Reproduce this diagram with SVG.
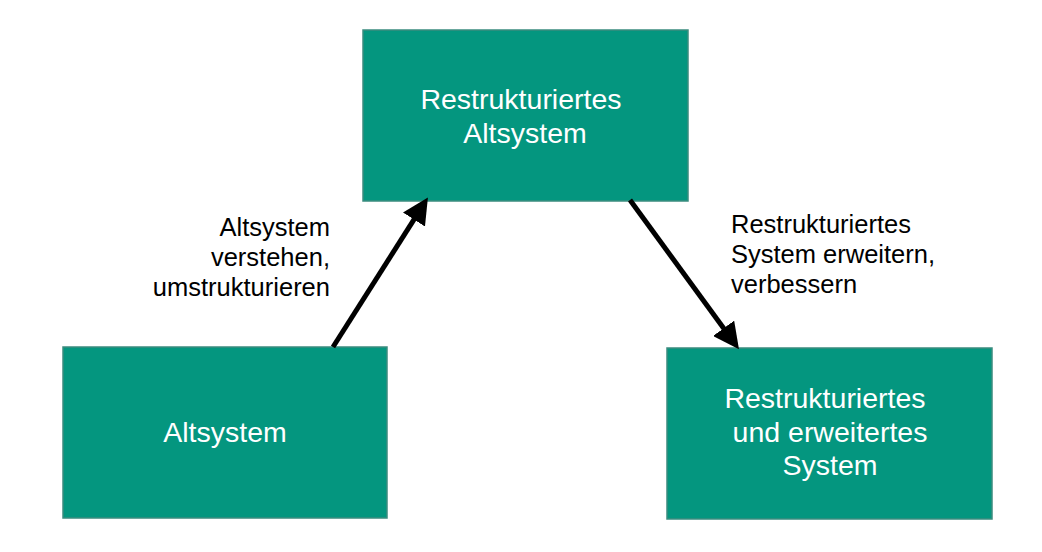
<svg xmlns="http://www.w3.org/2000/svg" width="1042" height="552" viewBox="0 0 1042 552">
<style>
.box{fill:#04967f;stroke:#3b8c7f;stroke-width:1.5}
.bt{font-family:"Liberation Sans",Arial,sans-serif;font-size:28.5px;fill:#ffffff;text-anchor:middle}
.lbl{font-family:"Liberation Sans",Arial,sans-serif;font-size:25.5px;fill:#000000}
.conn{stroke:#000;stroke-width:5;fill:none}
</style>
<defs>
<marker id="ah" markerUnits="userSpaceOnUse" markerWidth="26" markerHeight="26" viewBox="0 0 24 24" refX="4" refY="12" orient="auto">
<path d="M0,0 L24,12 L0,24 z" fill="#000"/>
</marker>
</defs>
<rect width="1042" height="552" fill="#ffffff"/>
<g id="node-top">
<rect class="box" x="363" y="30" width="325" height="171"/>
<text class="bt" x="521" y="109">Restrukturiertes</text>
<text class="bt" x="525" y="143">Altsystem</text>
</g>
<g id="node-left">
<rect class="box" x="63" y="347" width="324" height="171"/>
<text class="bt" x="225" y="442">Altsystem</text>
</g>
<g id="node-right">
<rect class="box" x="667" y="348" width="325" height="171"/>
<text class="bt" x="825" y="408">Restrukturiertes</text>
<text class="bt" x="830" y="442">und erweitertes</text>
<text class="bt" x="830" y="475">System</text>
</g>
<g id="connectors">
<line class="conn" x1="333" y1="347" x2="416.3" y2="215.9" marker-end="url(#ah)"/>
<line class="conn" x1="630" y1="200" x2="726.2" y2="331.8" marker-end="url(#ah)"/>
</g>
<g id="labels">
<text class="lbl" text-anchor="end" x="330" y="236">Altsystem</text>
<text class="lbl" text-anchor="end" x="330" y="266">verstehen,</text>
<text class="lbl" text-anchor="end" x="330" y="296">umstrukturieren</text>
<text class="lbl" x="731" y="233">Restrukturiertes</text>
<text class="lbl" x="731" y="263">System erweitern,</text>
<text class="lbl" x="731" y="293">verbessern</text>
</g>
</svg>
